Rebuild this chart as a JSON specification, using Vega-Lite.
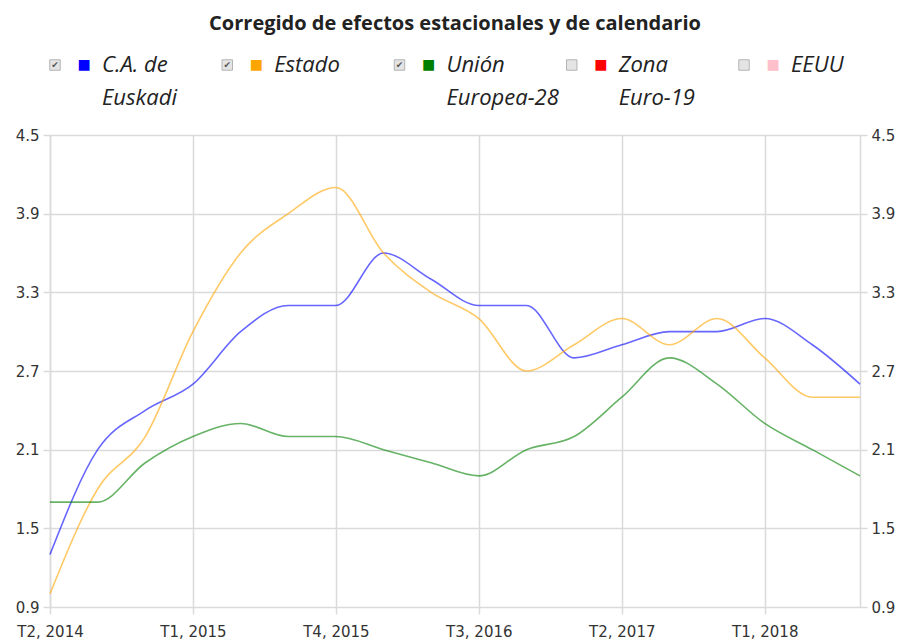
{
  "$schema": "https://vega.github.io/schema/vega-lite/v6.json",
  "padding": {"left": 15, "top": 14, "right": 0, "bottom": 0},
  "title": {"text": "Corregido de efectos estacionales y de calendario", "font": "Open Sans", "fontSize": 20, "fontWeight": "bold", "color": "#222222", "anchor": "middle", "offset": 14},
  "bounds": "flush",
  "spacing": 53,
  "config": {"view": {"stroke": null}, "font": "DejaVu Sans"},
  "resolve": {"scale": {"x": "independent", "color": "shared"}},
  "datasets": {
    "leyenda": [
      {"serie": "C.A. de Euskadi", "etiqueta": "C.A. de\nEuskadi", "marcado": true},
      {"serie": "Estado", "etiqueta": "Estado", "marcado": true},
      {"serie": "Unión Europea-28", "etiqueta": "Unión\nEuropea-28", "marcado": true},
      {"serie": "Zona Euro-19", "etiqueta": "Zona\nEuro-19", "marcado": false},
      {"serie": "EEUU", "etiqueta": "EEUU", "marcado": false}
    ],
    "serie": [
      {"trimestre": "T2, 2014", "serie": "C.A. de Euskadi", "valor": 1.3},
      {"trimestre": "T3, 2014", "serie": "C.A. de Euskadi", "valor": 2.1},
      {"trimestre": "T4, 2014", "serie": "C.A. de Euskadi", "valor": 2.4},
      {"trimestre": "T1, 2015", "serie": "C.A. de Euskadi", "valor": 2.6},
      {"trimestre": "T2, 2015", "serie": "C.A. de Euskadi", "valor": 3.0},
      {"trimestre": "T3, 2015", "serie": "C.A. de Euskadi", "valor": 3.2},
      {"trimestre": "T4, 2015", "serie": "C.A. de Euskadi", "valor": 3.2},
      {"trimestre": "T1, 2016", "serie": "C.A. de Euskadi", "valor": 3.6},
      {"trimestre": "T2, 2016", "serie": "C.A. de Euskadi", "valor": 3.4},
      {"trimestre": "T3, 2016", "serie": "C.A. de Euskadi", "valor": 3.2},
      {"trimestre": "T4, 2016", "serie": "C.A. de Euskadi", "valor": 3.2},
      {"trimestre": "T1, 2017", "serie": "C.A. de Euskadi", "valor": 2.8},
      {"trimestre": "T2, 2017", "serie": "C.A. de Euskadi", "valor": 2.9},
      {"trimestre": "T3, 2017", "serie": "C.A. de Euskadi", "valor": 3.0},
      {"trimestre": "T4, 2017", "serie": "C.A. de Euskadi", "valor": 3.0},
      {"trimestre": "T1, 2018", "serie": "C.A. de Euskadi", "valor": 3.1},
      {"trimestre": "T2, 2018", "serie": "C.A. de Euskadi", "valor": 2.9},
      {"trimestre": "T3, 2018", "serie": "C.A. de Euskadi", "valor": 2.6},
      {"trimestre": "T2, 2014", "serie": "Estado", "valor": 1.0},
      {"trimestre": "T3, 2014", "serie": "Estado", "valor": 1.8},
      {"trimestre": "T4, 2014", "serie": "Estado", "valor": 2.2},
      {"trimestre": "T1, 2015", "serie": "Estado", "valor": 3.0},
      {"trimestre": "T2, 2015", "serie": "Estado", "valor": 3.6},
      {"trimestre": "T3, 2015", "serie": "Estado", "valor": 3.9},
      {"trimestre": "T4, 2015", "serie": "Estado", "valor": 4.1},
      {"trimestre": "T1, 2016", "serie": "Estado", "valor": 3.6},
      {"trimestre": "T2, 2016", "serie": "Estado", "valor": 3.3},
      {"trimestre": "T3, 2016", "serie": "Estado", "valor": 3.1},
      {"trimestre": "T4, 2016", "serie": "Estado", "valor": 2.7},
      {"trimestre": "T1, 2017", "serie": "Estado", "valor": 2.9},
      {"trimestre": "T2, 2017", "serie": "Estado", "valor": 3.1},
      {"trimestre": "T3, 2017", "serie": "Estado", "valor": 2.9},
      {"trimestre": "T4, 2017", "serie": "Estado", "valor": 3.1},
      {"trimestre": "T1, 2018", "serie": "Estado", "valor": 2.8},
      {"trimestre": "T2, 2018", "serie": "Estado", "valor": 2.5},
      {"trimestre": "T3, 2018", "serie": "Estado", "valor": 2.5},
      {"trimestre": "T2, 2014", "serie": "Unión Europea-28", "valor": 1.7},
      {"trimestre": "T3, 2014", "serie": "Unión Europea-28", "valor": 1.7},
      {"trimestre": "T4, 2014", "serie": "Unión Europea-28", "valor": 2.0},
      {"trimestre": "T1, 2015", "serie": "Unión Europea-28", "valor": 2.2},
      {"trimestre": "T2, 2015", "serie": "Unión Europea-28", "valor": 2.3},
      {"trimestre": "T3, 2015", "serie": "Unión Europea-28", "valor": 2.2},
      {"trimestre": "T4, 2015", "serie": "Unión Europea-28", "valor": 2.2},
      {"trimestre": "T1, 2016", "serie": "Unión Europea-28", "valor": 2.1},
      {"trimestre": "T2, 2016", "serie": "Unión Europea-28", "valor": 2.0},
      {"trimestre": "T3, 2016", "serie": "Unión Europea-28", "valor": 1.9},
      {"trimestre": "T4, 2016", "serie": "Unión Europea-28", "valor": 2.1},
      {"trimestre": "T1, 2017", "serie": "Unión Europea-28", "valor": 2.2},
      {"trimestre": "T2, 2017", "serie": "Unión Europea-28", "valor": 2.5},
      {"trimestre": "T3, 2017", "serie": "Unión Europea-28", "valor": 2.8},
      {"trimestre": "T4, 2017", "serie": "Unión Europea-28", "valor": 2.6},
      {"trimestre": "T1, 2018", "serie": "Unión Europea-28", "valor": 2.3},
      {"trimestre": "T2, 2018", "serie": "Unión Europea-28", "valor": 2.1},
      {"trimestre": "T3, 2018", "serie": "Unión Europea-28", "valor": 1.9}
    ]
  },
  "vconcat": [
    {
      "width": 810,
      "height": 34,
      "data": {"name": "leyenda"},
      "encoding": {
        "x": {"field": "serie", "type": "nominal", "sort": null, "scale": {"type": "point", "padding": 0, "range": [5, 694]}, "axis": null}
      },
      "layer": [
        {"mark": {"type": "point", "shape": "square", "filled": true, "size": 110, "fill": "#e4e4e4", "stroke": "#b4b4b4", "strokeWidth": 1, "opacity": 1}},
        {"transform": [{"filter": "datum.marcado"}], "mark": {"type": "text", "text": "✔", "fontSize": 9, "color": "#555555", "font": "DejaVu Sans", "baseline": "middle", "align": "center"}},
        {"mark": {"type": "text", "text": "■", "dx": 29, "fontSize": 14, "font": "DejaVu Sans", "baseline": "middle", "align": "center"},
         "encoding": {"color": {"field": "serie", "type": "nominal", "scale": {"domain": ["C.A. de Euskadi", "Estado", "Unión Europea-28", "Zona Euro-19", "EEUU"], "range": ["#0000ff", "#ffa500", "#008000", "#ff0000", "#ffc0cb"]}, "legend": null}}},
        {"mark": {"type": "text", "dx": 47, "dy": 7, "align": "left", "baseline": "alphabetic", "font": "Open Sans", "fontStyle": "italic", "fontSize": 22, "lineHeight": 33, "lineBreak": "\n", "color": "#222222"},
         "encoding": {"text": {"field": "etiqueta"}}}
      ]
    },
    {
      "width": 810,
      "height": 472,
      "data": {"name": "serie"},
      "layer": [
        {
          "mark": {"type": "line", "interpolate": "monotone", "strokeWidth": 1.6, "strokeOpacity": 0.6},
          "encoding": {
            "x": {"field": "trimestre", "type": "nominal", "sort": null, "scale": {"type": "point", "padding": 0},
                  "axis": {"values": ["T2, 2014", "T1, 2015", "T4, 2015", "T3, 2016", "T2, 2017", "T1, 2018"], "title": null, "labelAngle": 0, "grid": true, "gridColor": "#dadada", "gridWidth": 1.5, "domain": false, "ticks": true, "tickColor": "#dadada", "tickWidth": 1.5, "tickSize": 7, "labelFont": "DejaVu Sans", "labelFontSize": 15, "labelColor": "#333333", "labelPadding": 10, "labelOverlap": false}},
            "y": {"field": "valor", "type": "quantitative", "scale": {"domain": [0.9, 4.5], "nice": false, "zero": false},
                  "axis": {"orient": "left", "values": [0.9, 1.5, 2.1, 2.7, 3.3, 3.9, 4.5], "format": ".1f", "title": null, "grid": true, "gridColor": "#dadada", "gridWidth": 1.5, "domain": true, "domainColor": "#dadada", "domainWidth": 1.5, "ticks": true, "tickColor": "#dadada", "tickWidth": 1.5, "tickSize": 7, "labelFont": "DejaVu Sans", "labelFontSize": 15, "labelColor": "#333333", "labelPadding": 4}},
            "color": {"field": "serie", "type": "nominal", "scale": {"domain": ["C.A. de Euskadi", "Estado", "Unión Europea-28", "Zona Euro-19", "EEUU"], "range": ["#0000ff", "#ffa500", "#008000", "#ff0000", "#ffc0cb"]}, "legend": null}
          }
        },
        {
          "mark": {"type": "line", "interpolate": "monotone", "opacity": 0},
          "encoding": {
            "x": {"field": "trimestre", "type": "nominal", "sort": null},
            "y": {"field": "valor", "type": "quantitative", "scale": {"domain": [0.9, 4.5], "nice": false, "zero": false},
                  "axis": {"orient": "right", "values": [0.9, 1.5, 2.1, 2.7, 3.3, 3.9, 4.5], "format": ".1f", "title": null, "grid": false, "domain": true, "domainColor": "#dadada", "domainWidth": 1.5, "ticks": true, "tickColor": "#dadada", "tickWidth": 1.5, "tickSize": 7, "labelFont": "DejaVu Sans", "labelFontSize": 15, "labelColor": "#333333", "labelPadding": 4}},
            "detail": {"field": "serie", "type": "nominal"}
          }
        }
      ],
      "resolve": {"scale": {"y": "independent"}}
    }
  ]
}
